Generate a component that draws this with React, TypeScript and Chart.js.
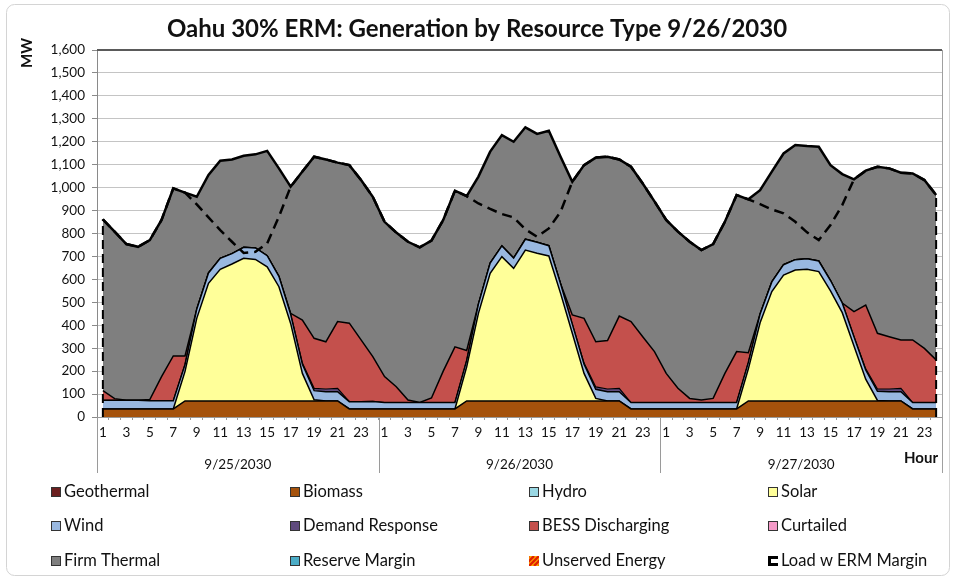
import React, { useEffect, useRef } from 'react';
import { Chart, registerables } from 'chart.js';

Chart.register(...registerables);

const TITLE = 'Oahu 30% ERM: Generation by Resource Type 9/26/2030';
const Y_TITLE = 'MW';
const X_TITLE = 'Hour';
const DAYS = ['9/25/2030', '9/26/2030', '9/27/2030'];
const HOURS = ['1','2','3','4','5','6','7','8','9','10','11','12','13','14','15','16','17','18','19','20','21','22','23','24'];

const GEOTHERMAL = [
  0,0,0,0,0,0,0,0,0,0,0,0,0,0,0,0,0,0,0,0,0,0,0,0,
  0,0,0,0,0,0,0,0,0,0,0,0,0,0,0,0,0,0,0,0,0,0,0,0,
  0,0,0,0,0,0,0,0,0,0,0,0,0,0,0,0,0,0,0,0,0,0,0,0,
];
const BIOMASS = [
  35,35,35,35,35,35,35,70,70,70,70,70,70,70,70,70,70,70,70,70,70,35,35,35,
  35,35,35,35,35,35,35,70,70,70,70,70,70,70,70,70,70,70,70,70,70,35,35,35,
  35,35,35,35,35,35,35,70,70,70,70,70,70,70,70,70,70,70,70,70,70,35,35,35,
];
const HYDRO = [
  0,0,0,0,0,0,0,0,0,0,0,0,0,0,0,0,0,0,0,0,0,0,0,0,
  0,0,0,0,0,0,0,0,0,0,0,0,0,0,0,0,0,0,0,0,0,0,0,0,
  0,0,0,0,0,0,0,0,0,0,0,0,0,0,0,0,0,0,0,0,0,0,0,0,
];
const SOLAR = [
  0,0,0,0,0,0,0,129,360,513,574,597,622,617,585,498,338,120,5,0,0,0,0,0,
  0,0,0,0,0,0,0,149,382,556,629,578,658,644,632,469,295,120,11,0,0,0,0,0,
  0,0,0,0,0,0,0,140,341,477,549,571,574,564,480,385,240,95,2,0,0,0,0,0,
];
const WIND = [
  38,38,38,38,36,36,36,30,40,45,48,45,48,50,48,45,40,40,40,40,40,32,32,33,
  28,28,28,28,28,28,28,28,40,45,47,45,47,48,45,42,40,40,40,40,40,28,28,28,
  28,28,28,28,28,28,28,28,38,42,45,45,46,46,45,42,40,40,40,40,40,28,28,28,
];
const DEMAND_RESPONSE = [
  0,0,0,0,0,0,0,0,0,0,0,0,0,0,0,0,0,5,10,12,15,0,0,0,
  0,0,0,0,0,0,0,0,0,0,0,0,0,0,0,0,0,5,10,12,15,0,0,0,
  0,0,0,0,0,0,0,0,0,0,0,0,0,0,0,0,0,5,10,12,15,0,0,0,
];
const BESS = [
  42,7,0,0,5,105,195,37,0,0,0,0,0,0,0,0,4,188,218,206,291,342,269,195,
  113,69,11,0,20,137,243,43,0,0,0,0,0,0,0,0,40,195,197,211,315,353,287,222,
  127,62,18,11,18,127,222,42,0,0,0,0,0,0,0,0,109,278,243,228,211,273,236,186,
];
const CURTAILED = [
  0,0,0,0,0,0,0,0,0,0,0,0,0,0,0,0,0,0,0,0,0,0,0,0,
  0,0,0,0,0,0,0,0,0,0,0,0,0,0,0,0,0,0,0,0,0,0,0,0,
  0,0,0,0,0,0,0,0,0,0,0,0,0,0,0,0,0,0,0,0,0,0,0,0,
];
const FIRM_THERMAL = [
  747,728,681,669,695,683,731,712,490,427,425,411,399,408,457,471,552,647,792,795,693,689,697,697,
  675,672,690,677,686,659,681,673,556,486,483,507,488,472,501,554,581,668,803,802,683,675,668,655,
  669,683,683,654,673,661,683,669,540,481,485,500,491,498,503,562,577,586,726,734,729,726,734,719,
];
const RESERVE_MARGIN = [
  0,0,0,0,0,0,0,0,0,0,0,0,0,0,0,0,0,0,0,0,0,0,0,0,
  0,0,0,0,0,0,0,0,0,0,0,0,0,0,0,0,0,0,0,0,0,0,0,0,
  0,0,0,0,0,0,0,0,0,0,0,0,0,0,0,0,0,0,0,0,0,0,0,0,
];
const UNSERVED = [
  0,0,0,0,0,0,0,0,0,0,0,0,0,0,0,0,0,0,0,0,0,0,0,0,
  0,0,0,0,0,0,0,0,0,0,0,0,0,0,0,0,0,0,0,0,0,0,0,0,
  0,0,0,0,0,0,0,0,0,0,0,0,0,0,0,0,0,0,0,0,0,0,0,0,
];
const LOAD_ERM = [
  862,808,754,742,771,859,997,978,927,870,815,764,715,720,757,873,1004,1070,1135,1123,1109,1098,1033,960,
  851,804,764,740,769,859,987,963,931,907,885,870,818,786,822,895,1026,1098,1131,1135,1123,1091,1018,940,
  859,808,764,728,754,851,968,949,928,905,888,851,805,771,837,924,1036,1074,1091,1084,1065,1062,1033,968,
];

const SERIES = [
  { label: 'Geothermal', data: GEOTHERMAL, color: '#6b1f1f', bw: 0 },
  { label: 'Biomass', data: BIOMASS, color: '#a5520c', bw: 1.5 },
  { label: 'Hydro', data: HYDRO, color: '#9ad8e4', bw: 0 },
  { label: 'Solar', data: SOLAR, color: '#ffff99', bw: 1.5 },
  { label: 'Wind', data: WIND, color: '#99b8e0', bw: 1.5 },
  { label: 'Demand Response', data: DEMAND_RESPONSE, color: '#5f4a7d', bw: 1.2 },
  { label: 'BESS Discharging', data: BESS, color: '#c4504c', bw: 1.5 },
  { label: 'Curtailed', data: CURTAILED, color: '#f59ac8', bw: 0 },
  { label: 'Firm Thermal', data: FIRM_THERMAL, color: '#7f7f7f', bw: 2.5 },
  { label: 'Reserve Margin', data: RESERVE_MARGIN, color: '#4bacc6', bw: 0 },
  { label: 'Unserved Energy', data: UNSERVED, color: '#ff8000', bw: 0 },
];

const FONT = 'Lato, "Liberation Sans", Arial, sans-serif';

const decorPlugin = {
  id: 'decor',
  beforeDraw(chart: any) {
    const ctx = chart.ctx;
    ctx.save();
    ctx.fillStyle = '#ffffff';
    ctx.fillRect(0, 0, chart.width, chart.height);
    ctx.strokeStyle = '#d4d4d4';
    ctx.lineWidth = 1;
    ctx.beginPath();
    (ctx as any).roundRect(6.5, 4.5, 943, 571, 8);
    ctx.stroke();
    ctx.fillStyle = '#111';
    ctx.font = `bold 24px ${FONT}`;
    ctx.textAlign = 'center';
    ctx.textBaseline = 'middle';
    ctx.fillText(TITLE, 477, 29);
    ctx.save();
    ctx.translate(27, 53);
    ctx.rotate(-Math.PI / 2);
    ctx.font = `bold 15px ${FONT}`;
    ctx.fillText(Y_TITLE, 0, 0);
    ctx.restore();
    ctx.restore();
  },
  afterDatasetsDraw(chart: any) {
    const ctx = chart.ctx;
    const x = chart.scales.x;
    const y = chart.scales.y;
    const n = LOAD_ERM.length;
    ctx.save();
    ctx.strokeStyle = '#000';
    ctx.lineWidth = 2;
    ctx.setLineDash([9, 5]);
    [0, n - 1].forEach((i) => {
      const px = x.getPixelForValue(i);
      ctx.beginPath();
      ctx.moveTo(px, y.getPixelForValue(0));
      ctx.lineTo(px, y.getPixelForValue(LOAD_ERM[i]));
      ctx.stroke();
    });
    ctx.restore();
  },
  afterDraw(chart: any) {
    const ctx = chart.ctx;
    const area = chart.chartArea;
    const x = chart.scales.x;
    ctx.save();
    ctx.strokeStyle = '#5a5a5a';
    ctx.lineWidth = 2;
    ctx.beginPath();
    ctx.moveTo(area.left, area.top);
    ctx.lineTo(area.right, area.top);
    ctx.stroke();
    ctx.strokeStyle = '#a0a0a0';
    ctx.lineWidth = 1;
    ctx.beginPath();
    ctx.moveTo(Math.round(area.right) + 0.5, area.top);
    ctx.lineTo(Math.round(area.right) + 0.5, 473);
    ctx.stroke();
    const bounds: number[] = [area.left];
    for (let d = 1; d < DAYS.length; d++) {
      const i = d * HOURS.length;
      bounds.push((x.getPixelForValue(i - 1) + x.getPixelForValue(i)) / 2);
    }
    bounds.push(area.right);
    ctx.strokeStyle = '#9a9a9a';
    bounds.slice(0, -1).forEach((b) => {
      ctx.beginPath();
      ctx.moveTo(Math.round(b) + 0.5, area.bottom);
      ctx.lineTo(Math.round(b) + 0.5, 473);
      ctx.stroke();
    });
    ctx.fillStyle = '#111';
    ctx.font = `13.5px ${FONT}`;
    ctx.textAlign = 'center';
    ctx.textBaseline = 'middle';
    DAYS.forEach((d, k) => {
      ctx.fillText(d, (bounds[k] + bounds[k + 1]) / 2, 465);
    });
    ctx.font = `bold 15px ${FONT}`;
    ctx.textAlign = 'right';
    ctx.fillText(X_TITLE, 938, 458);

    const cols = [51, 290, 529, 768];
    const rows = [492, 526, 561];
    const items = chart.data.datasets;
    ctx.font = `16.5px ${FONT}`;
    ctx.textAlign = 'left';
    items.forEach((ds: any, k: number) => {
      const cx = cols[k % 4];
      const cy = rows[Math.floor(k / 4)];
      const s = 10;
      const bx = cx, by = cy - s / 2;
      if (ds.label === 'Load w ERM Margin') {
        ctx.strokeStyle = '#000';
        ctx.lineWidth = 3;
        ctx.beginPath();
        ctx.moveTo(bx + s, by + 1.5);
        ctx.lineTo(bx + 1.5, by + 1.5);
        ctx.lineTo(bx + 1.5, by + s - 1.5);
        ctx.lineTo(bx + s, by + s - 1.5);
        ctx.stroke();
      } else if (ds.label === 'Unserved Energy') {
        ctx.fillStyle = '#ffb000';
        ctx.fillRect(bx, by, s, s);
        ctx.save();
        ctx.beginPath();
        ctx.rect(bx, by, s, s);
        ctx.clip();
        ctx.strokeStyle = '#e02000';
        ctx.lineWidth = 2.5;
        for (let t = -s; t < 2 * s; t += 5) {
          ctx.beginPath();
          ctx.moveTo(bx + t, by + s);
          ctx.lineTo(bx + t + s, by);
          ctx.stroke();
        }
        ctx.restore();
      } else {
        ctx.fillStyle = ds.backgroundColor;
        ctx.fillRect(bx, by, s, s);
        ctx.strokeStyle = '#333';
        ctx.lineWidth = 1;
        ctx.strokeRect(bx + 0.5, by + 0.5, s - 1, s - 1);
      }
      ctx.fillStyle = '#111';
      ctx.textBaseline = 'middle';
      ctx.fillText(ds.label, cx + 13, cy);
    });
    ctx.restore();
  },
};

export default function App() {
  const ref = useRef<HTMLCanvasElement | null>(null);
  useEffect(() => {
    if (!ref.current) return;
    const labels: string[] = [];
    DAYS.forEach(() => HOURS.forEach((h) => labels.push(h)));
    const datasets: any[] = SERIES.map((s, i) => ({
      label: s.label,
      data: s.data,
      backgroundColor: s.color,
      borderColor: '#000',
      borderWidth: s.bw,
      pointRadius: 0,
      pointHoverRadius: 0,
      tension: 0,
      fill: i === 0 ? 'origin' : '-1',
      stack: 'gen',
    }));
    datasets.push({
      label: 'Load w ERM Margin',
      data: LOAD_ERM,
      backgroundColor: '#000',
      borderColor: '#000',
      borderWidth: 2.5,
      borderDash: [10, 6],
      pointRadius: 0,
      tension: 0,
      fill: false,
      stack: 'load',
      order: -1,
    });
    const chart = new Chart(ref.current, {
      type: 'line',
      data: { labels, datasets },
      options: {
        responsive: false,
        animation: false,
        devicePixelRatio: 1,
        layout: { padding: { left: 0, right: 14, top: 50, bottom: 102 } },
        plugins: {
          legend: { display: false },
          title: { display: false },
          tooltip: { enabled: false },
        },
        scales: {
          x: {
            type: 'category',
            offset: true,
            grid: { display: true, drawOnChartArea: false, drawTicks: true, tickLength: 3, color: '#9a9a9a', offset: true },
            border: { display: true, color: '#9a9a9a' },
            ticks: {
              autoSkip: false,
              maxRotation: 0,
              minRotation: 0,
              padding: 5,
              color: '#111',
              font: { family: FONT, size: 13.5 },
              callback: (v: any, i: number) => (i % 2 === 0 ? labels[i] : ''),
            },
            afterFit: (s: any) => { s.height = 60; },
          },
          y: {
            type: 'linear',
            stacked: true,
            min: 0,
            max: 1600,
            grid: { color: '#c4c4c4', lineWidth: 1, tickLength: 5, tickColor: '#8a8a8a' },
            border: { display: true, color: '#8a8a8a' },
            ticks: {
              stepSize: 100,
              padding: 7,
              color: '#111',
              font: { family: FONT, size: 13.5 },
              callback: (v: any) => Number(v).toLocaleString('en-US'),
            },
            afterFit: (s: any) => { s.width = 97; },
          },
        },
      } as any,
      plugins: [decorPlugin],
    });
    return () => chart.destroy();
  }, []);
  return (
    <div style={{ position: 'fixed', left: 0, top: 0, width: 956, height: 579, background: '#fff' }}>
      <canvas ref={ref} width={956} height={579} style={{ width: 956, height: 579 }} />
    </div>
  );
}
